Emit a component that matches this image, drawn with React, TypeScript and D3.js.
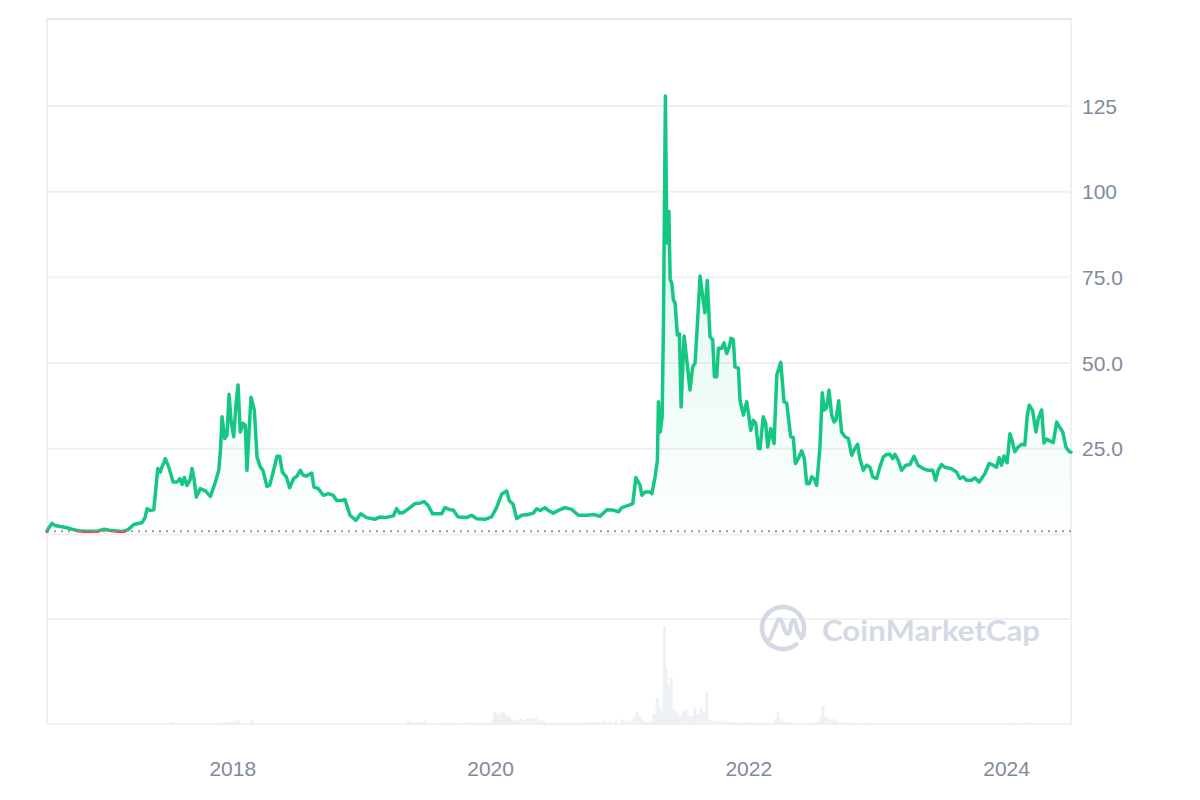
import React from 'react';
import * as d3 from 'd3';

// Price series: [decimal year, price USD]
const priceSeries: [number, number][] = [
  [2016.560, 0.95], [2016.579, 2.2], [2016.599, 3.2], [2016.622, 2.6], [2016.661, 2.3],
  [2016.707, 2.0], [2016.754, 1.5], [2016.800, 1.1], [2016.855, 0.95], [2016.909, 0.9],
  [2016.955, 1.0], [2017.002, 1.5], [2017.041, 1.2], [2017.079, 1.05], [2017.118, 0.9],
  [2017.157, 0.95], [2017.188, 1.4], [2017.232, 2.9], [2017.265, 3.2], [2017.296, 3.4],
  [2017.320, 5.0], [2017.335, 7.5], [2017.361, 7.0], [2017.387, 7.2], [2017.418, 19.2],
  [2017.438, 18.2], [2017.451, 19.7], [2017.477, 22.1], [2017.503, 19.7], [2017.537, 15.3],
  [2017.568, 15.3], [2017.589, 16.3], [2017.607, 14.6], [2017.624, 16.6], [2017.645, 14.3],
  [2017.669, 16.0], [2017.684, 19.2], [2017.700, 16.0], [2017.717, 10.9], [2017.748, 13.4],
  [2017.787, 12.7], [2017.826, 11.1], [2017.865, 15.3], [2017.891, 18.7], [2017.905, 25.0],
  [2017.917, 34.3], [2017.938, 28.0], [2017.955, 29.0], [2017.971, 40.9], [2017.987, 33.0],
  [2018.007, 28.5], [2018.025, 38.0], [2018.041, 43.6], [2018.058, 29.9], [2018.079, 32.4],
  [2018.097, 31.9], [2018.110, 18.7], [2018.126, 30.0], [2018.141, 40.0], [2018.167, 36.3],
  [2018.188, 22.6], [2018.213, 19.7], [2018.234, 18.7], [2018.265, 14.0], [2018.286, 14.3],
  [2018.312, 18.0], [2018.343, 22.8], [2018.364, 22.8], [2018.384, 18.2], [2018.415, 16.8],
  [2018.441, 13.6], [2018.472, 16.3], [2018.498, 17.0], [2018.524, 18.7], [2018.545, 17.3],
  [2018.570, 17.0], [2018.612, 17.9], [2018.630, 13.8], [2018.663, 13.4], [2018.702, 11.4],
  [2018.741, 11.9], [2018.779, 11.4], [2018.806, 9.9], [2018.844, 9.9], [2018.870, 10.2],
  [2018.909, 5.6], [2018.955, 4.1], [2018.992, 6.0], [2019.038, 4.9], [2019.103, 4.4],
  [2019.141, 5.1], [2019.180, 4.9], [2019.245, 5.4], [2019.271, 7.5], [2019.296, 6.2],
  [2019.322, 6.4], [2019.374, 7.8], [2019.413, 9.0], [2019.452, 9.1], [2019.483, 9.6],
  [2019.516, 8.4], [2019.550, 6.0], [2019.620, 6.0], [2019.645, 7.8], [2019.684, 7.2],
  [2019.710, 7.1], [2019.748, 5.1], [2019.813, 4.9], [2019.852, 5.6], [2019.891, 4.6],
  [2019.955, 4.4], [2020.007, 5.1], [2020.046, 7.8], [2020.085, 11.7], [2020.124, 12.7],
  [2020.144, 9.9], [2020.175, 8.7], [2020.201, 4.6], [2020.240, 5.6], [2020.291, 5.8],
  [2020.330, 6.2], [2020.356, 7.5], [2020.382, 7.0], [2020.420, 7.8], [2020.446, 7.0],
  [2020.485, 6.2], [2020.524, 7.0], [2020.576, 7.8], [2020.627, 7.3], [2020.679, 5.6],
  [2020.744, 5.6], [2020.795, 5.8], [2020.847, 5.3], [2020.899, 7.2], [2020.950, 7.1],
  [2020.989, 6.6], [2021.015, 7.8], [2021.066, 8.5], [2021.100, 9.0], [2021.124, 16.6],
  [2021.157, 14.3], [2021.170, 11.4], [2021.196, 12.4], [2021.235, 12.4], [2021.248, 11.9],
  [2021.273, 16.8], [2021.291, 21.6], [2021.299, 38.7], [2021.312, 29.9], [2021.328, 34.3],
  [2021.338, 61.6], [2021.353, 127.9], [2021.364, 85.0], [2021.380, 94.2], [2021.390, 74.3],
  [2021.403, 73.3], [2021.415, 68.4], [2021.428, 67.5], [2021.446, 58.2], [2021.462, 58.5],
  [2021.475, 37.2], [2021.498, 57.9], [2021.519, 50.9], [2021.544, 42.1], [2021.565, 48.9],
  [2021.583, 49.9], [2021.601, 61.1], [2021.622, 75.4], [2021.642, 69.4], [2021.660, 64.7],
  [2021.678, 74.1], [2021.699, 57.7], [2021.720, 56.8], [2021.733, 46.0], [2021.751, 46.0],
  [2021.764, 54.3], [2021.790, 54.3], [2021.808, 55.9], [2021.829, 52.8], [2021.849, 54.8],
  [2021.862, 57.2], [2021.880, 56.8], [2021.893, 48.9], [2021.919, 48.5], [2021.932, 39.2],
  [2021.958, 34.8], [2021.984, 38.7], [2021.996, 35.8], [2022.015, 30.4], [2022.035, 33.3],
  [2022.054, 32.4], [2022.074, 25.1], [2022.087, 25.0], [2022.112, 34.3], [2022.131, 32.4],
  [2022.147, 25.5], [2022.170, 30.9], [2022.196, 26.5], [2022.217, 46.5], [2022.248, 50.2],
  [2022.273, 38.7], [2022.294, 38.3], [2022.325, 28.5], [2022.345, 28.3], [2022.361, 20.7],
  [2022.384, 22.1], [2022.410, 24.4], [2022.431, 22.1], [2022.449, 14.8], [2022.469, 14.8],
  [2022.488, 16.8], [2022.506, 16.3], [2022.527, 14.3], [2022.552, 25.5], [2022.570, 41.3],
  [2022.586, 36.3], [2022.604, 37.0], [2022.622, 42.1], [2022.643, 34.8], [2022.661, 32.8],
  [2022.676, 33.3], [2022.697, 39.0], [2022.720, 29.9], [2022.746, 28.5], [2022.772, 28.0],
  [2022.798, 23.1], [2022.823, 25.1], [2022.844, 26.3], [2022.862, 22.1], [2022.888, 18.7],
  [2022.914, 20.2], [2022.940, 19.6], [2022.961, 16.8], [2022.992, 16.3], [2023.017, 19.7],
  [2023.043, 22.6], [2023.069, 23.3], [2023.095, 23.4], [2023.116, 22.1], [2023.133, 23.4],
  [2023.159, 21.6], [2023.185, 18.7], [2023.219, 20.2], [2023.250, 20.4], [2023.281, 22.8],
  [2023.314, 20.1], [2023.353, 19.2], [2023.392, 18.7], [2023.426, 18.7], [2023.449, 15.8],
  [2023.469, 18.7], [2023.495, 20.4], [2023.520, 19.6], [2023.572, 19.2], [2023.611, 18.2],
  [2023.637, 16.3], [2023.663, 16.8], [2023.689, 15.8], [2023.728, 15.8], [2023.753, 16.5],
  [2023.787, 15.3], [2023.831, 17.7], [2023.864, 20.7], [2023.895, 20.2], [2023.921, 19.6],
  [2023.942, 22.4], [2023.960, 20.2], [2023.980, 22.9], [2024.004, 20.9], [2024.025, 29.4],
  [2024.045, 27.0], [2024.063, 24.1], [2024.089, 25.5], [2024.116, 26.3], [2024.141, 26.1],
  [2024.159, 34.5], [2024.175, 37.7], [2024.201, 36.1], [2024.227, 29.9], [2024.245, 33.8],
  [2024.271, 36.3], [2024.289, 26.7], [2024.310, 27.8], [2024.335, 27.3], [2024.361, 26.8],
  [2024.387, 32.8], [2024.408, 31.4], [2024.434, 29.9], [2024.459, 25.5], [2024.485, 24.1],
  [2024.498, 24.0],
];

// Volume series: [decimal year, volume (billion USD)]
const volumeSeries: [number, number][] = [
  [2017.529, 0.25], [2017.924, 0.2], [2017.948, 0.3], [2017.979, 0.25], [2018.010, 0.35],
  [2018.041, 0.45], [2018.149, 0.45], [2019.358, 0.35], [2019.382, 0.2], [2019.436, 0.3],
  [2019.490, 0.35], [2019.653, 0.2], [2019.676, 0.2], [2019.831, 0.2], [2019.855, 0.2],
  [2019.971, 0.2], [2020.017, 0.45], [2020.033, 1.4], [2020.048, 1.3], [2020.064, 0.95],
  [2020.079, 1.3], [2020.095, 1.4], [2020.110, 1.05], [2020.126, 0.8], [2020.141, 0.95],
  [2020.164, 0.6], [2020.188, 0.45], [2020.211, 0.35], [2020.234, 0.6], [2020.258, 0.45],
  [2020.281, 0.7], [2020.304, 0.6], [2020.327, 0.7], [2020.351, 0.7], [2020.382, 0.45],
  [2020.413, 0.35], [2020.459, 0.15], [2020.506, 0.15], [2020.552, 0.2], [2020.599, 0.15],
  [2020.645, 0.2], [2020.692, 0.15], [2020.738, 0.25], [2020.785, 0.2], [2020.831, 0.3],
  [2020.878, 0.35], [2020.924, 0.3], [2020.971, 0.4], [2021.017, 0.5], [2021.048, 0.4],
  [2021.087, 0.35], [2021.110, 0.8], [2021.133, 1.4], [2021.157, 0.9], [2021.180, 0.4],
  [2021.211, 0.3], [2021.242, 0.4], [2021.265, 1.2], [2021.289, 3.1], [2021.312, 2.0],
  [2021.328, 1.5], [2021.345, 11.5], [2021.358, 6.5], [2021.376, 4.5], [2021.397, 5.4],
  [2021.413, 1.8], [2021.428, 1.6], [2021.448, 1.2], [2021.467, 0.9], [2021.490, 1.5],
  [2021.513, 1.7], [2021.537, 1.0], [2021.560, 0.9], [2021.583, 1.9], [2021.607, 1.2],
  [2021.630, 2.0], [2021.653, 1.4], [2021.674, 3.7], [2021.700, 0.5], [2021.731, 0.4],
  [2021.762, 0.35], [2021.793, 0.3], [2021.824, 0.4], [2021.855, 0.35], [2021.893, 0.3],
  [2021.932, 0.2], [2021.979, 0.25], [2022.025, 0.2], [2022.087, 0.2], [2022.164, 0.2],
  [2022.211, 0.6], [2022.227, 1.4], [2022.250, 0.6], [2022.273, 0.3], [2022.320, 0.2],
  [2022.397, 0.15], [2022.475, 0.2], [2022.537, 0.3], [2022.560, 0.8], [2022.575, 2.1],
  [2022.591, 0.9], [2022.614, 0.7], [2022.638, 0.5], [2022.661, 0.6], [2022.684, 0.4],
  [2022.723, 0.25], [2022.785, 0.15], [2022.940, 0.15], [2024.048, 0.2], [2024.180, 0.25],
];

const yTickValues = [25, 50, 75, 100, 125];
const yGridValues = [0, 25, 50, 75, 100, 125];
const openingPrice = 0.95;
const domainStart = 2016.56;
const domainEnd = 2024.498;

function toDate(t: number): Date {
  const yr = Math.floor(t);
  const s = Date.UTC(yr, 0, 1);
  const e = Date.UTC(yr + 1, 0, 1);
  return new Date(s + (t - yr) * (e - s));
}

const GREEN = '#16c784';
const RED = '#ea3943';
const GRID = '#f0f0f0';
const BORDER = '#e6e6e6';
const LABEL = '#808a9d';
const WM = '#d2d8e4';

export default function App() {
  const W = 1200, H = 800;
  const left = 47, right = 1071, top = 19;
  const volTop = 619, volBottom = 724;

  const x = d3.scaleUtc().domain([toDate(domainStart), toDate(domainEnd)]).range([left, right]);
  const y = d3.scaleLinear().domain([0, 125]).range([534.4, 106]);
  const yv = d3.scaleLinear().domain([0, 12.3]).range([volBottom, volTop]);

  const baseY = y(openingPrice);
  const line = d3.line<[number, number]>().x(d => x(toDate(d[0]))).y(d => y(d[1]));
  const area = d3.area<[number, number]>().x(d => x(toDate(d[0]))).y0(baseY).y1(d => y(d[1]));
  const linePath = line(priceSeries) || '';
  const areaPath = area(priceSeries) || '';
  const xTicks = x.ticks(d3.utcYear.every(2) as any);
  const fmt = d3.format('.3r');

  // watermark logo geometry
  const cx = 783, cy = 628, r = 21;
  const pt = (deg: number) => {
    const a = (deg * Math.PI) / 180;
    return [cx + r * Math.sin(a), cy - r * Math.cos(a)];
  };
  const [sx, sy] = pt(140);
  const [ex, ey] = pt(118);

  return (
    <div style={{ position: 'absolute', left: 0, top: 0 }}>
      <svg width={W} height={H} style={{ display: 'block', background: '#fff' }} fontFamily="'Liberation Sans', Arial, Helvetica, sans-serif">
        <defs>
          <linearGradient id="fillGrad" gradientUnits="userSpaceOnUse" x1="0" y1={y(128)} x2="0" y2={baseY}>
            <stop offset="0%" stopColor={GREEN} stopOpacity={0.18} />
            <stop offset="100%" stopColor={GREEN} stopOpacity={0.01} />
          </linearGradient>
          <clipPath id="aboveClip">
            <rect x={0} y={0} width={W} height={baseY} />
          </clipPath>
          <clipPath id="belowClip">
            <rect x={0} y={baseY} width={W} height={H - baseY} />
          </clipPath>
        </defs>

        {/* gridlines */}
        {yGridValues.map(v => (
          <line key={v} x1={left} x2={right} y1={y(v)} y2={y(v)} stroke={GRID} strokeWidth={2} />
        ))}
        <line x1={left} x2={right} y1={volTop} y2={volTop} stroke={GRID} strokeWidth={2} />
        <line x1={left} x2={right} y1={volBottom} y2={volBottom} stroke={GRID} strokeWidth={2} />
        {/* frame */}
        <line x1={left - 1} x2={right + 1} y1={top} y2={top} stroke={BORDER} strokeWidth={2} />
        <line x1={left} x2={left} y1={top} y2={volBottom + 1} stroke={GRID} strokeWidth={2} />
        <line x1={right} x2={right} y1={top} y2={volBottom + 1} stroke={GRID} strokeWidth={2} />

        {/* volume bars */}
        {volumeSeries.map(([t, v], i) => (
          <rect key={i} x={x(toDate(t)) - 1.5} width={3} y={yv(v)} height={volBottom - yv(v)} fill="#edf0f4" />
        ))}

        {/* watermark */}
        <g opacity={0.95}>
          <path d={`M ${sx} ${sy} A ${r} ${r} 0 1 1 ${ex} ${ey}`} fill="none" stroke={WM} strokeWidth={4.5} strokeLinecap="round" />
          <path d="M 770 639 L 777.5 621 Q 779.5 617 781.5 621 L 785.5 632 Q 787.5 636 789.5 632 L 791.5 622.5 Q 793.5 618 795.5 622.5 L 797.5 631 Q 799.5 637 804 635"
            fill="none" stroke={WM} strokeWidth={4} strokeLinecap="round" strokeLinejoin="round" />
          <text x={822} y={641} fontSize={29} fontWeight={700} fill={WM} textLength={218} lengthAdjust="spacingAndGlyphs"
            fontFamily="Lato, 'Open Sans', sans-serif">CoinMarketCap</text>
        </g>

        {/* price area + line */}
        <path d={areaPath} fill="url(#fillGrad)" clipPath="url(#aboveClip)" />
        <line x1={left} x2={right} y1={baseY} y2={baseY} stroke="#999" strokeWidth={2} strokeDasharray="2 5" />
        <path d={linePath} fill="none" stroke={GREEN} strokeWidth={3.5} strokeLinejoin="round" strokeLinecap="round" clipPath="url(#aboveClip)" />
        <path d={linePath} fill="none" stroke={RED} strokeWidth={3.5} strokeLinejoin="round" strokeLinecap="round" clipPath="url(#belowClip)" />

        {/* y labels */}
        {yTickValues.map(v => (
          <text key={v} x={1082} y={y(v)} dy="0.36em" fontSize={21} fill={LABEL}>{fmt(v)}</text>
        ))}
        {/* x labels */}
        {xTicks.map(d => (
          <text key={+d} x={x(d)} y={768} dy="0.36em" fontSize={21} fill={LABEL} textAnchor="middle">{d3.utcFormat('%Y')(d)}</text>
        ))}
      </svg>
    </div>
  );
}
